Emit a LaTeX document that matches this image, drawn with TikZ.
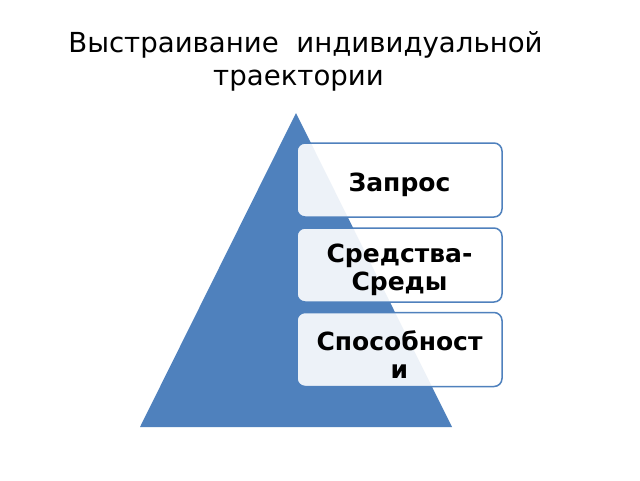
\documentclass[tikz,border=0pt]{standalone}
\usepackage{fontspec}
\setmainfont{DejaVu Sans}
\definecolor{pyrblue}{HTML}{4F81BD}
\begin{document}
\begin{tikzpicture}[x=1pt,y=-1pt,
  levelbox/.style={draw=pyrblue, line width=1.5pt, rounded corners=8pt, fill=white, fill opacity=0.9,
    minimum width=205pt, minimum height=74pt, inner sep=0pt},
  leveltext/.style={align=center, font=\fontsize{25}{27.5}\selectfont\bfseries, inner sep=0pt, yshift=-5pt},
  title/.style={align=center, font=\fontsize{27.6}{33}\selectfont}]
\useasboundingbox (0,0) rectangle (640,480);
\fill[white] (0,0) rectangle (640,480);
\node[title] (t) at (305.5,61) {Выстраивание \ индивидуальной\\траектории\hspace*{14pt}};
\coordinate (apex) at (296,113);
\coordinate (bl) at (140,427);
\coordinate (br) at (452,427);
\fill[pyrblue] (apex) -- (bl) -- (br) -- cycle;
\node[levelbox] (b1) at (399.5,180) {};
\node[levelbox] (b2) at (399.5,265) {};
\node[levelbox] (b3) at (399.5,349.5) {};
\node[leveltext] (l1) at (b1) {Запрос};
\node[leveltext] (l2) at (b2) {Средства-\\Среды};
\node[leveltext] (l3) at (b3) {Способност\\и};
\end{tikzpicture}
\end{document}
